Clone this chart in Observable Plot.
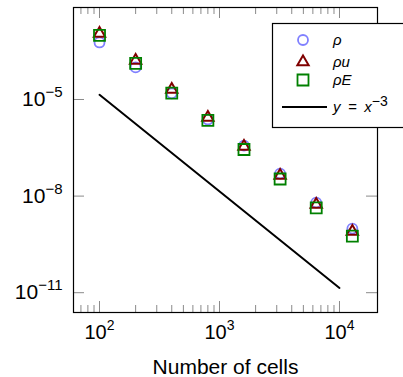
<!DOCTYPE html>
<html><head><meta charset="utf-8">
<script src="https://cdn.jsdelivr.net/npm/d3@7"></script>
<script src="https://cdn.jsdelivr.net/npm/@observablehq/plot@0.6"></script>
<style>
html,body{margin:0;padding:0;background:#fff}
svg{font-family:"Liberation Sans",Arial,Helvetica,sans-serif}
</style>
</head><body><div id="chart"></div>
<script>
// ---- data ----
const cells = [100, 200, 400, 800, 1600, 3200, 6400, 12800];
const rho   = [5.9e-4, 9.9e-5, 1.55e-5, 2.4e-6, 3.7e-7, 5.0e-8, 6.3e-9, 9.8e-10];
const rhoU  = [1.12e-3, 1.62e-4, 2.04e-5, 2.75e-6, 3.47e-7, 4.37e-8, 5.5e-9, 7.9e-10];
const rhoE  = [9.8e-4, 1.32e-4, 1.58e-5, 2.24e-6, 2.8e-7, 3.4e-8, 4.3e-9, 5.75e-10];
const refCells = [100, 10000];
const refErr   = [1.4e-5, 1.4e-11];
const xMajor = [100, 1000, 10000];
const xMajorLabels = ["10^2", "10^3", "10^4"];
const xMinor = [70, 80, 90, 200, 300, 400, 500, 600, 700, 800, 900,
                2000, 3000, 4000, 5000, 6000, 7000, 8000, 9000];
const yMajor = [1e-5, 1e-8, 1e-11];
const yMajorLabels = ["10^\u22125", "10^\u22128", "10^\u221211"];
const seriesNames = ["\u03C1", "\u03C1u", "\u03C1E"];
const refLabel = "y = x^\u22123";
const xLabel = "Number of cells";

// ---- layout ----
const W = 403, H = 377, mL = 73, mR = 26, mT = 7, mB = 65;
const fw = W - mL - mR, fh = H - mT - mB;
const tickCol = "#8a8a8a";
const cRho = "#8080ff", cRhoU = "#800000", cRhoE = "#008000";
const xLab = new Map(xMajor.map((d, i) => [d, xMajorLabels[i]]));
const yLab = new Map(yMajor.map((d, i) => [d, yMajorLabels[i]]));
const rC = 5, rT = 4.2, rS = 6.2;

const chart = Plot.plot({
  width: W, height: H,
  marginLeft: mL, marginRight: mR, marginTop: mT, marginBottom: mB,
  x: {type: "log", domain: [60.7, 20740]},
  y: {type: "log", domain: [Math.pow(10, -11.615), Math.pow(10, -2.143)]},
  style: {fontFamily: '"Liberation Sans", Arial, sans-serif', background: "white", color: "black"},
  marks: [
    Plot.ruleX(xMajor, {x: d => d, insetTop: fh - 11, stroke: tickCol}),
    Plot.ruleX(xMajor, {x: d => d, insetBottom: fh - 11, stroke: tickCol}),
    Plot.ruleX(xMinor, {x: d => d, insetTop: fh - 7, stroke: tickCol}),
    Plot.ruleX(xMinor, {x: d => d, insetBottom: fh - 7, stroke: tickCol}),
    Plot.ruleY(yMajor, {y: d => d, insetRight: fw - 11, stroke: tickCol}),
    Plot.ruleY(yMajor, {y: d => d, insetLeft: fw - 11, stroke: tickCol}),
    Plot.axisX(xMajor, {tickSize: 0, tickPadding: 12, tickFormat: d => xLab.get(d), fontSize: 20, label: null}),
    Plot.axisY(yMajor, {tickSize: 0, tickPadding: 11, tickFormat: d => yLab.get(d), fontSize: 21, label: null}),
    Plot.line(refCells.map((c, i) => [c, refErr[i]]), {stroke: "black", strokeWidth: 2}),
    Plot.dot(cells, {x: d => d, y: (d, i) => rho[i], symbol: "circle", r: rC, stroke: cRho, strokeWidth: 1.8, fill: "none"}),
    Plot.dot(cells, {x: d => d, y: (d, i) => rhoU[i], symbol: "triangle", r: rT, stroke: cRhoU, strokeWidth: 2, fill: "none"}),
    Plot.dot(cells, {x: d => d, y: (d, i) => rhoE[i], symbol: "square", r: rS, stroke: cRhoE, strokeWidth: 1.8, fill: "none"}),
    Plot.frame({stroke: "black", strokeWidth: 1.2}),
    Plot.text([xLabel], {text: d => d, frameAnchor: "bottom", dy: 61, lineAnchor: "bottom", fontSize: 21})
  ]
});
document.getElementById("chart").appendChild(chart);

// superscripts in tick labels
function supify(sel, supSize, shift) {
  sel.each(function() {
    const t = d3.select(this);
    const parts = t.text().split("^");
    if (parts.length < 2) return;
    t.text(null);
    t.append("tspan").text(parts[0]);
    t.append("tspan").attr("dy", -shift).attr("font-size", supSize).text(parts[1]);
  });
}
const svg = d3.select(chart);
supify(svg.selectAll('g[aria-label="x-axis tick label"] text'), 14, 9);
supify(svg.selectAll('g[aria-label="y-axis tick label"] text'), 15, 9);

// legend
const lg = svg.append("g").attr("text-anchor", "start");
lg.append("rect").attr("x", 272.5).attr("y", 23.5).attr("width", 132).attr("height", 104)
  .attr("fill", "white").attr("stroke", "black").attr("stroke-width", 1.2);
const sym = [
  {s: d3.symbolCircle, r: rC, c: cRho, y: 40, w: 1.8},
  {s: d3.symbolTriangle, r: rT, c: cRhoU, y: 62, w: 2},
  {s: d3.symbolSquare, r: rS, c: cRhoE, y: 80, w: 1.8}
];
sym.forEach((o, i) => {
  lg.append("path").attr("d", d3.symbol(o.s, Math.PI * o.r * o.r)())
    .attr("transform", `translate(303,${o.y})`)
    .attr("fill", "none").attr("stroke", o.c).attr("stroke-width", o.w);
  lg.append("text").attr("x", 333).attr("y", o.y + 5).attr("font-size", 15)
    .attr("font-style", "italic").attr("text-anchor", "start").text(seriesNames[i]);
});
lg.append("line").attr("x1", 282).attr("x2", 327).attr("y1", 107).attr("y2", 107)
  .attr("stroke", "black").attr("stroke-width", 2);
const rl = lg.append("text").attr("x", 333).attr("y", 112).attr("font-size", 15)
  .attr("font-style", "italic").attr("text-anchor", "start").attr("xml:space", "preserve");
const rp = refLabel.split("^");
rl.append("tspan").text(rp[0].replace(" = ", "\u2002=\u2002"));
rl.append("tspan").attr("dy", -6).attr("font-size", 14).attr("font-style", "normal").text(rp[1]);
</script>
</body></html>
